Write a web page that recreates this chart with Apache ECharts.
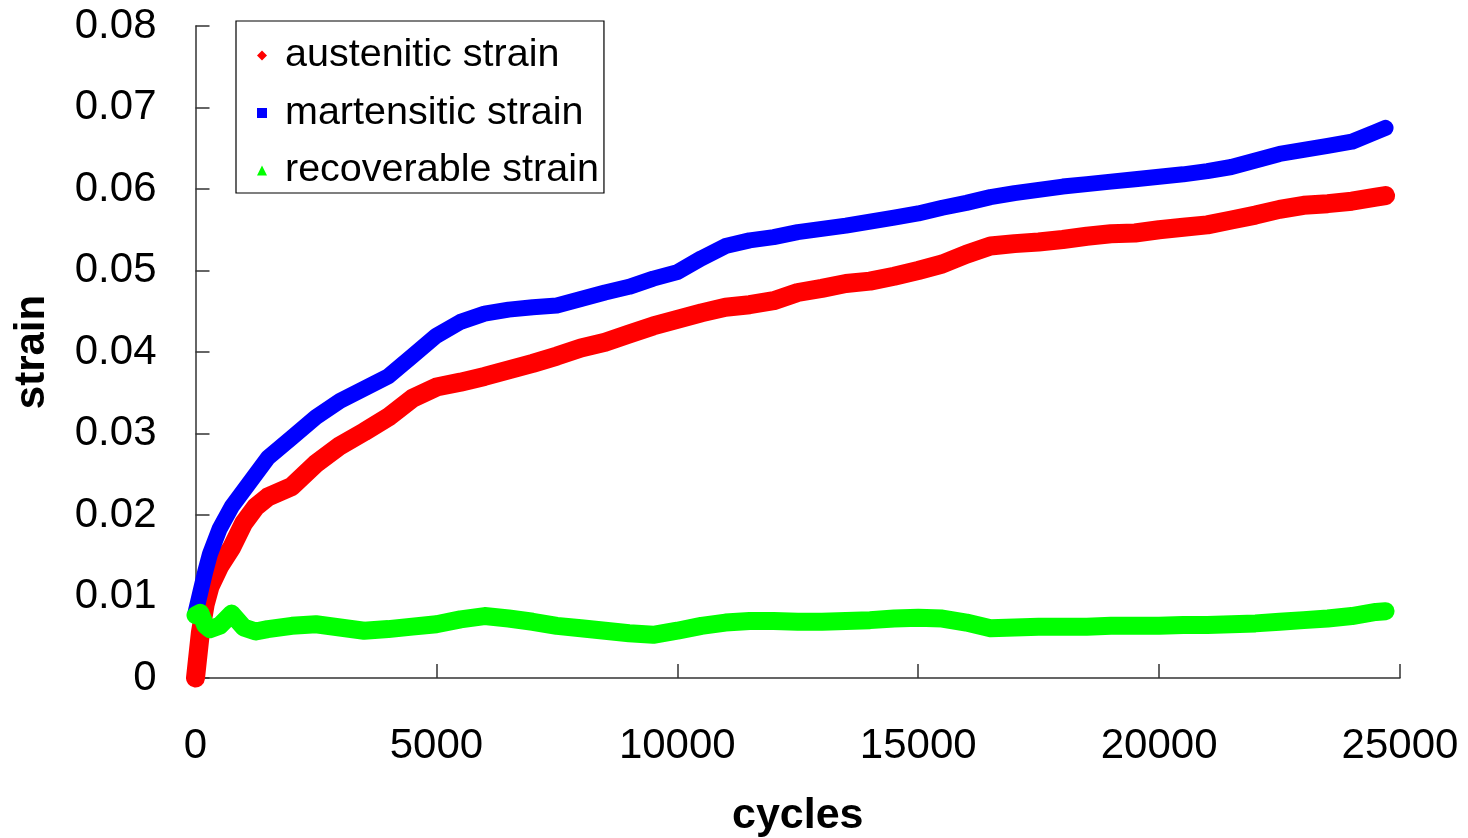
<!DOCTYPE html>
<html>
<head>
<meta charset="utf-8">
<script src="https://cdn.jsdelivr.net/npm/echarts@6/dist/echarts.min.js"></script>
<style>
html,body{margin:0;padding:0;background:#fff;}
#chart{width:1468px;height:838px;}
</style>
</head>
<body>
<div id="chart"></div>
<script>
const cycles = [0,100,200,300,500,750,1000,1250,1500,2000,2500,3000,3500,4000,4500,5000,5500,6000,6500,7000,7500,8000,8500,9000,9500,10000,10500,11000,11500,12000,12500,13000,13500,14000,14500,15000,15500,16000,16500,17000,17500,18000,18500,19000,19500,20000,20500,21000,21500,22000,22500,23000,23500,24000,24500,24700];

const austeniticStrain = [0.0,0.0055,0.009,0.0112,0.0137,0.016,0.019,0.021,0.0222,0.0235,0.0263,0.0285,0.0302,0.032,0.0343,0.0357,0.0363,0.037,0.0378,0.0386,0.0395,0.0405,0.0412,0.0422,0.0432,0.044,0.0448,0.0455,0.0458,0.0463,0.0473,0.0478,0.0484,0.0487,0.0493,0.050,0.0508,0.052,0.053,0.0533,0.0535,0.0538,0.0542,0.0545,0.0546,0.055,0.0553,0.0556,0.0562,0.0568,0.0575,0.058,0.0582,0.0585,0.059,0.0592];

const martensiticStrain = [0.008,0.0105,0.013,0.0152,0.0183,0.021,0.023,0.025,0.027,0.0295,0.032,0.034,0.0355,0.037,0.0395,0.042,0.0437,0.0447,0.0452,0.0455,0.0457,0.0465,0.0473,0.048,0.049,0.0498,0.0515,0.053,0.0537,0.0541,0.0547,0.0551,0.0555,0.056,0.0565,0.057,0.0577,0.0583,0.059,0.0595,0.0599,0.0603,0.0606,0.0609,0.0612,0.0615,0.0618,0.0622,0.0627,0.0635,0.0643,0.0648,0.0653,0.0658,0.067,0.0675];

const recoverableStrain = [0.0077,0.008,0.0065,0.006,0.0064,0.0079,0.0062,0.0057,0.006,0.0064,0.0066,0.0062,0.0058,0.006,0.0063,0.0066,0.0072,0.0076,0.0073,0.0069,0.0064,0.0061,0.0058,0.0055,0.0053,0.0058,0.0064,0.0068,0.007,0.007,0.0069,0.0069,0.007,0.0071,0.0073,0.0074,0.0073,0.0068,0.0061,0.0062,0.0063,0.0063,0.0063,0.0064,0.0064,0.0064,0.0065,0.0065,0.0066,0.0067,0.0069,0.0071,0.0073,0.0076,0.0081,0.0082];

const seriesNames = ['austenitic strain','martensitic strain','recoverable strain'];
const seriesColors = ['#ff0000','#0000ff','#00ff00'];
const seriesIcons = ['diamond','rect','triangle'];
const xTicks = {min:0, max:25000, interval:5000};
const yTicks = {min:0, max:0.08, interval:0.01};

function pairs(ys){ return cycles.map((c,i)=>[c, ys[i]]); }

const FONT = '"Liberation Sans", Arial, sans-serif';
const chart = echarts.init(document.getElementById('chart'), null, {renderer:'canvas'});

const widths = [19, 16, 18];
const allData = [austeniticStrain, martensiticStrain, recoverableStrain];

chart.setOption({
  animation:false,
  backgroundColor:'#ffffff',
  grid:{left:195.5, right:68, top:26, bottom:160, containLabel:false, outerBoundsMode:'none'},
  legend:{
    orient:'vertical', left:236, top:21,
    padding:[12,5,0,21],
    itemGap:12.5, itemWidth:10, itemHeight:10,
    borderColor:'#000', borderWidth:1.2,
    textStyle:{fontFamily:FONT, fontSize:39.5, color:'#000', lineHeight:45, padding:[0,0,0,13]},
    data: seriesNames.map((n,i)=>({name:n, icon:seriesIcons[i]}))
  },
  xAxis:{
    type:'value', min:xTicks.min, max:xTicks.max, interval:xTicks.interval,
    name:'cycles', nameLocation:'middle', nameGap:117,
    nameTextStyle:{fontFamily:FONT, fontSize:43, fontWeight:'bold', color:'#000'},
    axisLine:{show:true, lineStyle:{color:'#333', width:1.5}},
    axisTick:{show:true, inside:true, length:14, lineStyle:{color:'#333', width:1.5}},
    axisLabel:{fontFamily:FONT, fontSize:42, color:'#000', margin:47, formatter:(v)=>String(v)},
    splitLine:{show:false}
  },
  yAxis:{
    type:'value', min:yTicks.min, max:yTicks.max, interval:yTicks.interval,
    name:'strain', nameLocation:'middle', nameGap:142, nameRotate:90,
    nameTextStyle:{fontFamily:FONT, fontSize:42, fontWeight:'bold', color:'#000'},
    axisLine:{show:true, lineStyle:{color:'#333', width:1.5}},
    axisTick:{show:true, inside:true, length:14, lineStyle:{color:'#333', width:1.5}},
    axisLabel:{fontFamily:FONT, fontSize:42, color:'#000', margin:39},
    splitLine:{show:false}
  },
  series: seriesNames.map((n,i)=>({
    name:n, type:'line', data:pairs(allData[i]),
    showSymbol:false, symbol:seriesIcons[i], symbolSize:9,
    color:seriesColors[i],
    lineStyle:{color:seriesColors[i], width:widths[i], cap:'round', join:'round'},
    itemStyle:{color:seriesColors[i]},
    z:2+i, clip:false
  }))
});
</script>
</body>
</html>
